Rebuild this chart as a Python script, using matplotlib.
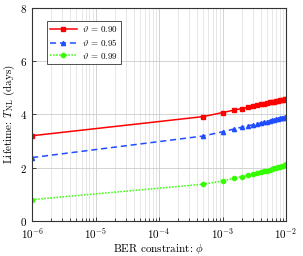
import matplotlib
matplotlib.use("Agg")
import matplotlib.pyplot as plt
from matplotlib.ticker import LogLocator

plt.rcParams["font.family"] = "serif"
plt.rcParams["font.serif"] = ["cmr10", "DejaVu Serif"]
plt.rcParams["mathtext.fontset"] = "cm"
plt.rcParams["axes.formatter.use_mathtext"] = True

# BER constraint values
phi = [1e-6, 5e-4, 1e-3, 1.5e-3, 2e-3, 2.5e-3, 3e-3, 3.5e-3, 4e-3, 4.5e-3, 5e-3,
       5.5e-3, 6e-3, 6.5e-3, 7e-3, 7.5e-3, 8e-3, 8.5e-3, 9e-3, 9.5e-3, 1e-2]

# lifetime (days)
t_090 = [3.20, 3.92, 4.07, 4.16, 4.22, 4.27, 4.31, 4.35, 4.38, 4.40, 4.43,
         4.45, 4.47, 4.48, 4.50, 4.52, 4.53, 4.54, 4.56, 4.57, 4.58]
t_095 = [2.38, 3.19, 3.35, 3.45, 3.52, 3.57, 3.61, 3.65, 3.68, 3.71, 3.73,
         3.76, 3.78, 3.80, 3.81, 3.83, 3.85, 3.86, 3.87, 3.89, 3.90]
t_099 = [0.80, 1.38, 1.50, 1.60, 1.66, 1.71, 1.75, 1.79, 1.83, 1.86, 1.89,
         1.92, 1.95, 1.97, 2.00, 2.02, 2.04, 2.06, 2.08, 2.10, 2.12]

labels = [r"$\vartheta\,=\,0.90$", r"$\vartheta\,=\,0.95$", r"$\vartheta\,=\,0.99$"]

fig = plt.figure(figsize=(3.03, 2.56), dpi=100)
ax = fig.add_axes([0.106, 0.137, 0.838, 0.832])

ax.plot(phi, t_090, color="#ff0000", ls="-", lw=1.1, marker="s", ms=3, label=labels[0])
ax.plot(phi, t_095, color="#1f4dff", ls=(0, (4, 2.5)), lw=1.1, marker="^", ms=3, label=labels[1])
ax.plot(phi, t_099, color="#33ff00", ls=(0, (1, 1)), lw=1.1, marker="o", ms=3, label=labels[2])

ax.set_xscale("log")
ax.set_xlim(1e-6, 1e-2)
ax.set_ylim(0, 8)
ax.set_yticks([0, 2, 4, 6, 8])
ax.xaxis.set_major_locator(LogLocator(base=10, numticks=10))
ax.xaxis.set_minor_locator(LogLocator(base=10, subs=range(2, 10), numticks=20))

ax.grid(True, which="major", color="#cccccc", lw=0.6)
ax.grid(True, which="minor", axis="x", color="#dddddd", lw=0.5)
ax.set_axisbelow(True)
ax.tick_params(which="both", direction="in", labelsize=8, length=3, width=0.5)
ax.tick_params(which="minor", length=2)
ax.tick_params(axis="x", pad=4)
for s in ax.spines.values():
    s.set_linewidth(0.8)
    s.set_color("#333333")

ax.set_xlabel(r"BER constraint: $\phi$", fontsize=8, labelpad=0)
ax.set_ylabel(r"Lifetime: $T_{\mathrm{NL}}$ (days)", fontsize=8, labelpad=2)

leg = ax.legend(loc="upper left", bbox_to_anchor=(0.04, 0.96), fontsize=6.5,
                fancybox=False, framealpha=1, edgecolor="#333333",
                handlelength=3.0, handletextpad=0.6, borderpad=0.35,
                labelspacing=0.3)
leg.get_frame().set_linewidth(0.6)

fig.savefig("out.png", dpi=100)
